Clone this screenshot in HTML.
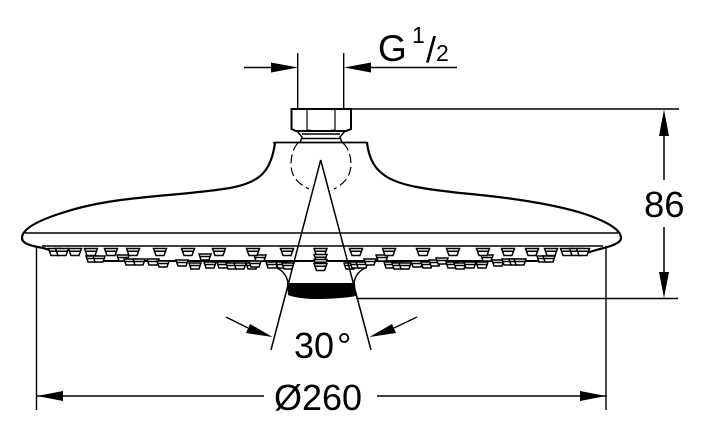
<!DOCTYPE html>
<html>
<head>
<meta charset="utf-8">
<style>
html,body{margin:0;padding:0;background:#fff}
svg{display:block}
text{font-family:"Liberation Sans",sans-serif;fill:#000}
</style>
</head>
<body>
<svg width="720" height="444" viewBox="0 0 720 444" xmlns="http://www.w3.org/2000/svg">
<defs>
<g id="n"><path d="M-6.500,-3.500 H6.500 L4,3.500 H-4 Z M-5.500,-0.800 H5.500" fill="#fff" stroke="#000" stroke-width="1.500"/></g>
<g id="m"><path d="M-6,-3 H6 L4,3 H-4 Z M-5,-0.500 H5" fill="#fff" stroke="#000" stroke-width="1.500"/></g>
</defs>
<rect width="720" height="444" fill="#fff"/>

<!-- head outline -->
<path d="M275,143 C273,158 268,172 256,179 C240,189 215,190 190,193 C150,197 105,199 65,212 C42,219 22,228 22,238 C22,244 32,246 43,248 L56,252 M367,143 C369,158 374,169 387,177 C402,186 425,189 460,193 C505,197 550,203 585,214 C605,221 621,229 621,238 C621,243 612,246 600,249 L586,253" fill="none" stroke="#000" stroke-width="2.200"/>
<path d="M273,143 Q274,142.500 276,142.500 H365 Q367,142.500 368,143" fill="none" stroke="#000" stroke-width="1.800"/>
<path d="M25,233 H618 M42,246 H603" fill="none" stroke="#000" stroke-width="1.600"/>

<!-- nut and neck -->
<path d="M291.500,109 H351 V129 L346,131 H296 L291.500,129 Z" fill="#fff" stroke="#000" stroke-width="2"/>
<path d="M307,109 V130 M335,109 V130 M307,130 Q321,132 335,130" fill="none" stroke="#000" stroke-width="1.200"/>
<path d="M297,131 L302,137 L300,143 M345,131 L340,137 L342,143 M302,134 H340 M302,138.500 H340" fill="none" stroke="#000" stroke-width="1.500"/>

<!-- dashed ball -->
<path d="M298,143 C291,150 288,168 295,178 C299,184 305,187 309,189 M343,143 C351,150 354,168 347,178 C343,184 338,187 334,189" fill="none" stroke="#000" stroke-width="1.200" stroke-dasharray="9 4"/>

<!-- nozzles lower row -->
<path d="M100,261 H540" stroke="#000" stroke-width="2"/>
<g>
<use href="#m" x="92" y="259"/><use href="#m" x="99" y="259"/><use href="#m" x="123" y="258"/><use href="#m" x="130" y="262"/><use href="#m" x="139" y="262"/><use href="#m" x="153" y="262"/><use href="#m" x="163" y="264"/><use href="#m" x="182" y="263"/><use href="#m" x="195" y="266"/><use href="#m" x="205" y="257"/><use href="#m" x="210" y="265"/><use href="#m" x="223" y="265"/><use href="#m" x="232" y="266"/><use href="#m" x="240" y="266"/><use href="#m" x="252" y="266"/><use href="#m" x="255" y="264"/><use href="#m" x="260" y="258"/><use href="#m" x="272" y="265"/><use href="#m" x="282" y="265"/><use href="#m" x="288" y="266"/>
<use href="#m" x="350" y="266"/><use href="#m" x="356" y="265"/><use href="#m" x="362" y="265"/><use href="#m" x="370" y="262"/><use href="#m" x="382" y="258"/><use href="#m" x="390" y="265"/><use href="#m" x="398" y="266"/><use href="#m" x="405" y="266"/><use href="#m" x="417" y="264"/><use href="#m" x="427" y="265"/><use href="#m" x="435" y="263"/><use href="#m" x="442" y="261"/><use href="#m" x="452" y="265"/><use href="#m" x="460" y="266"/><use href="#m" x="470" y="265"/><use href="#m" x="482" y="265"/><use href="#m" x="487" y="258"/><use href="#m" x="498" y="263"/><use href="#m" x="508" y="262"/><use href="#m" x="515" y="262"/><use href="#m" x="520" y="262"/><use href="#m" x="543" y="259"/><use href="#m" x="549" y="259"/>
</g>
<!-- nozzles upper row -->
<g>
<use href="#n" x="55" y="252"/><use href="#n" x="62" y="252"/><use href="#n" x="75" y="252"/><use href="#n" x="91" y="252"/><use href="#n" x="111" y="252"/><use href="#n" x="133" y="252"/><use href="#n" x="160" y="252"/><use href="#n" x="188" y="252"/><use href="#n" x="219" y="252"/><use href="#n" x="253" y="252"/><use href="#n" x="287" y="252"/>
<use href="#n" x="320.500" y="252"/><use href="#n" x="320.500" y="258"/><use href="#n" x="320.500" y="263"/><use href="#n" x="320.500" y="267"/>
<use href="#n" x="356" y="252"/><use href="#n" x="389" y="252"/><use href="#n" x="423" y="252"/><use href="#n" x="453" y="252"/><use href="#n" x="483" y="252"/><use href="#n" x="508" y="252"/><use href="#n" x="532" y="252"/><use href="#n" x="551" y="252"/><use href="#n" x="567" y="252"/><use href="#n" x="576" y="252"/><use href="#n" x="583" y="252"/>
</g>

<!-- central spray nozzle -->
<path d="M277,268 C283,271 287,276 288,283 M365,268 C359,271 355,276 354,283" fill="none" stroke="#000" stroke-width="1.500"/>
<path d="M287,283 H355 L356,296 Q340,299 312,299 Q295,298 288,295 Z" fill="#000"/>

<!-- cone lines -->
<path d="M320.700,160 L271,350 M320.700,160 L371,350" fill="none" stroke="#000" stroke-width="1.500"/>
<!-- 30 degree arrows -->
<path d="M226,317 L248,328 M417,317 L394,328" fill="none" stroke="#000" stroke-width="1.300"/>
<path d="M272.500,337 L250,324 L246,333 Z M369.500,337 L392,324 L396,333 Z" fill="#000"/>

<!-- G 1/2 dim -->
<path d="M297.700,53 V109 M343.700,53 V109 M244,67.500 H271 M371,67.500 H457" fill="none" stroke="#000" stroke-width="1.400"/>
<path d="M298,67.500 L271,62.500 V72.500 Z M344,67.500 L371,62.500 V72.500 Z" fill="#000"/>

<!-- 86 dim -->
<path d="M351,109 H679 M356,298.500 H678 M664,136 V180 M664,227 V272" fill="none" stroke="#000" stroke-width="1.500"/>
<path d="M664,109.500 L659,136 H669 Z M664,298 L659,272 H669 Z" fill="#000"/>

<!-- 260 dim -->
<path d="M36.500,246 V410 M606,246 V410 M37,396 H264 M377,396 H607" fill="none" stroke="#000" stroke-width="1.400"/>
<path d="M37,396 L63,391 V401 Z M606,396 L580,391 V401 Z" fill="#000"/>

<!-- labels -->
<text x="378" y="61" font-size="37">G</text>
<text x="412" y="43" font-size="23">1</text>
<text x="426" y="62" font-size="36">/</text>
<text x="436" y="61" font-size="23">2</text>
<text x="644" y="217" font-size="36.500">86</text>
<text x="294" y="358" font-size="36">30</text>
<text x="337" y="358" font-size="36">°</text>
<text x="274" y="410" font-size="36">Ø260</text>
</svg>
</body>
</html>
